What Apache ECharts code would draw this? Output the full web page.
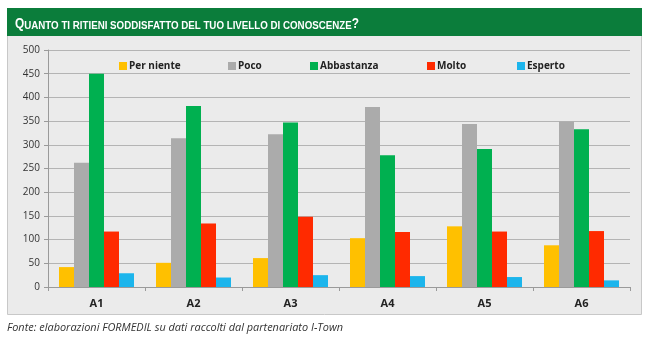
<!DOCTYPE html>
<html><head><meta charset="utf-8">
<script src="https://cdn.jsdelivr.net/npm/echarts@6/dist/echarts.min.js"></script>
<style>html,body{margin:0;padding:0;background:#fff}#c{width:650px;height:338px}</style>
</head><body><div id="c"></div>
<script>
const categories = ['A1','A2','A3','A4','A5','A6'];
const seriesNames = ['Per niente','Poco','Abbastanza','Molto','Esperto'];
const perNiente = [42, 51, 61, 103, 128, 88];
const poco = [262, 314, 322, 380, 344, 349];
const abbastanza = [450, 382, 347, 278, 291, 333];
const molto = [117, 134, 148, 116, 117, 118];
const esperto = [29, 20, 25, 23, 21, 14];
const yTicks = [0,50,100,150,200,250,300,350,400,450,500];
const titleText = 'Quanto ti ritieni soddisfatto del tuo livello di conoscenze?';
const footerText = 'Fonte: elaborazioni FORMEDIL su dati raccolti dal partenariato I-Town';
const colors = ['#FFC000','#ABABAB','#00B050','#FF2A00','#1CB5EC'];
const values = [perNiente, poco, abbastanza, molto, esperto];
const legendLeft = [119, 228, 310, 427, 517];

const font = '"Open Sans", "DejaVu Sans", sans-serif';
const titleFont = '"Liberation Sans", Arimo, sans-serif';
const bigSize = 14, smallSize = 11.5;
function measure(f, t){const c=document.createElement('canvas').getContext('2d');c.font=f;return c.measureText(t).width;}
// small-caps title as rich text: capitals / punctuation large, lowercase letters as small uppercase
let richStr = '', titleW = 0;
let run = '', runBig = null;
function flush(){
  if (!run) return;
  const sz = runBig ? bigSize : smallSize;
  richStr += '{' + (runBig ? 'b' : 's') + '|' + run.toUpperCase() + '}';
  titleW += measure('bold ' + sz + 'px ' + titleFont, run.toUpperCase());
  run = '';
}
for (const ch of titleText) {
  const big = !(/[a-z ]/.test(ch));
  if (runBig !== null && big !== runBig) flush();
  runBig = big; run += ch;
}
flush();
const footW = measure('italic 11px ' + font, footerText);
const titleScale = 344 / titleW;
const footScale = 336 / footW;

const chart = echarts.init(document.getElementById('c'));
chart.setOption({
  animation: false,
  backgroundColor: '#ffffff',
  graphic: [
    {type:'rect', z:-10, shape:{x:7.5,y:8.5,width:634,height:306}, style:{fill:'#EBEBEB', stroke:'#C8C8C8', lineWidth:1}},
    {type:'rect', z:-9, shape:{x:7,y:8,width:635,height:28}, style:{fill:'#0B7D3B'}},
    {type:'text', x:15, y:23.5, scaleX:titleScale, style:{text:richStr, fill:'#fff', fontWeight:'bold', fontFamily:titleFont, verticalAlign:'middle', textVerticalAlign:'middle',
      rich:{
        b:{fontSize:bigSize, fontWeight:'bold', fontFamily:titleFont, fill:'#fff', color:'#fff', verticalAlign:'bottom', lineHeight:16},
        s:{fontSize:smallSize, fontWeight:'bold', fontFamily:titleFont, fill:'#fff', color:'#fff', verticalAlign:'bottom', lineHeight:16}
      }}},
    {type:'text', x:7, y:328, scaleX:footScale, style:{text:footerText, fill:'#333', fontStyle:'italic', fontSize:11, fontFamily:font, verticalAlign:'middle', textVerticalAlign:'middle'}}
  ],
  legend: seriesNames.map((n,i)=>({
    data:[n], left: legendLeft[i], top: 61, padding: 0, itemWidth: 8, itemHeight: 8, itemGap: 3,
    icon:'rect', textStyle:{fontSize:10, fontWeight:'bold', color:'#222', fontFamily:font, padding:[0,0,0,-3]}
  })),
  grid: {left: 48, right: 20, top: 50, bottom: 51},
  xAxis: {
    type:'category', data: categories,
    axisLine:{lineStyle:{color:'#9A9A9A'}},
    axisTick:{show:true, alignWithLabel:false, length:4, lineStyle:{color:'#9A9A9A'}},
    axisLabel:{fontSize:11, fontWeight:'bold', color:'#222', fontFamily:font, margin:11}
  },
  yAxis: {
    type:'value', min: yTicks[0], max: yTicks[yTicks.length-1], interval: 50,
    axisLine:{show:true, lineStyle:{color:'#9A9A9A'}},
    axisTick:{show:true, length:4, lineStyle:{color:'#9A9A9A'}},
    splitLine:{lineStyle:{color:'#B4B4B4'}},
    axisLabel:{fontSize:10, color:'#333', fontFamily:font, margin:8}
  },
  series: seriesNames.map((n,i)=>({
    name:n, type:'bar', data: values[i], barGap:'0%', barCategoryGap:'22.7%',
    itemStyle:{color:colors[i]}
  }))
});
</script></body></html>
